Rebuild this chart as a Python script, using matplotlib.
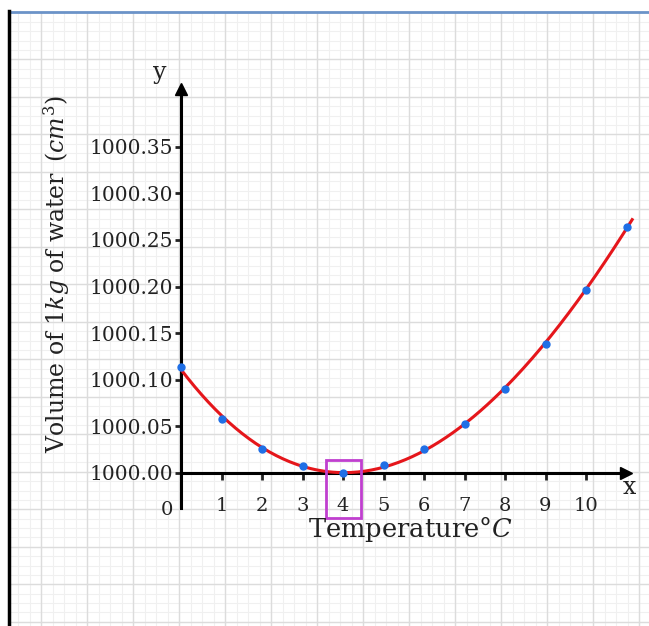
import numpy as np
import matplotlib.pyplot as plt
from matplotlib.patches import Rectangle

plt.rcParams['font.family'] = 'DejaVu Serif'
plt.rcParams['mathtext.fontset'] = 'dejavuserif'

temperature = [0, 1, 2, 3, 4, 5, 6, 7, 8, 9, 10, 11]
volume = [1000.114, 1000.058, 1000.026, 1000.0075, 1000.000, 1000.0086,
          1000.026, 1000.053, 1000.090, 1000.138, 1000.196, 1000.264]
x_ticks = [1, 2, 3, 4, 5, 6, 7, 8, 9, 10]
y_ticks = [1000.00, 1000.05, 1000.10, 1000.15, 1000.20, 1000.25, 1000.30, 1000.35]

W, H = 649, 626
X0, SX = 181, 40.5      # pixel of x=0, pixels per degree
Y0, SY = 473, 932       # pixel of y=1000, pixels per cm3

fig = plt.figure(figsize=(W / 100, H / 100), dpi=100)

# grid paper background
bg = fig.add_axes([0, 0, 1, 1], zorder=0)
bg.set_xlim(0, W)
bg.set_ylim(H, 0)
bg.axis('off')
for gx in np.arange(41 - 2 * 11.5, W, 11.5):
    if gx > 10:
        bg.plot([gx, gx], [13, H], color='#f0f0f0', lw=0.8)
for gy in np.arange(59.3 - 4 * 9.375, H, 9.375):
    if gy > 13:
        bg.plot([10, W], [gy, gy], color='#f0f0f0', lw=0.8)
for gx in np.arange(41, W, 46):
    bg.plot([gx, gx], [13, H], color='#dcdcdc', lw=1.0)
for gy in np.arange(59.3, H, 37.5):
    bg.plot([10, W], [gy, gy], color='#dcdcdc', lw=1.0)
bg.plot([9, W], [12, 12], color='#6b93c8', lw=2)
bg.plot([9, 9], [11, H], color='black', lw=2.5)

ax = fig.add_axes([0, 0, 1, 1], zorder=1)
ax.patch.set_alpha(0)
ax.set_xlim(-X0 / SX, (W - X0) / SX)
ax.set_ylim(1000 - (H - Y0) / SY, 1000 + Y0 / SY)

for s in ['top', 'right']:
    ax.spines[s].set_visible(False)
ax.spines['left'].set_position(('data', 0))
ax.spines['bottom'].set_position(('data', 1000))
ax.spines['left'].set_bounds(1000 - 35 / SY, 1000 + (Y0 - 92) / SY)
ax.spines['bottom'].set_bounds(0, (622 - X0) / SX)
ax.spines['left'].set_linewidth(2.2)
ax.spines['bottom'].set_linewidth(2.2)
ax.plot(0, 1000 + (Y0 - 89) / SY, marker='^', color='black', ms=8, clip_on=False)
ax.plot((626 - X0) / SX, 1000, marker='>', color='black', ms=8, clip_on=False)

ax.set_xticks(x_ticks)
ax.set_xticklabels([str(t) for t in x_ticks])
ax.set_yticks(y_ticks)
ax.set_yticklabels([f'{v:.2f}' for v in y_ticks])
ax.tick_params(axis='x', direction='out', length=5, width=2, pad=12,
               labelsize=14, colors='#222222')
ax.tick_params(axis='y', direction='out', length=4, width=2, pad=2,
               labelsize=14.5, colors='#222222')
ax.text(-0.2, 1000 - 37 / SY, '0', ha='right', va='center', fontsize=14, color='#222222')

# fitted smooth curve through the measured points
coef = np.polyfit(temperature, volume, 3)
tt = np.linspace(0, 11.14, 200)
ax.plot(tt, np.polyval(coef, tt), color='#e5161b', lw=2.2, zorder=3)
ax.plot(temperature, volume, 'o', color='#1f6fe6', ms=5, zorder=4)

ax.add_patch(Rectangle((3.58, 1000 - 45 / SY), 0.86, 58 / SY, fill=False,
                       edgecolor='#c03fcf', lw=2, zorder=5))

fig.text(160 / W, 1 - 73 / H, 'y', fontsize=17, ha='center', va='center', color='#222222')
fig.text(629 / W, 1 - 487 / H, 'x', fontsize=17, ha='center', va='center', color='#222222')
fig.text(410 / W, 1 - 529 / H, 'Temperature\u00b0$C$', fontsize=18.5,
         ha='center', va='center', color='#222222')
fig.text(57 / W, 1 - 274 / H, r'Volume of 1$kg$ of water $\,(cm^3)$', fontsize=17,
         rotation=90, ha='center', va='center', color='#222222')

fig.savefig('out.png', dpi=100)
